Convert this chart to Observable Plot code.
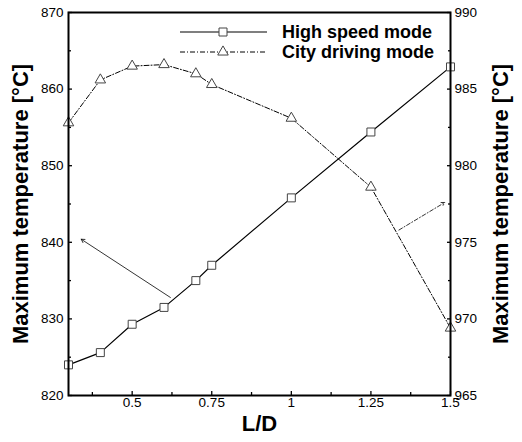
<!DOCTYPE html>
<html><head><meta charset="utf-8">
<script src="https://cdn.jsdelivr.net/npm/d3@7"></script>
<script src="https://cdn.jsdelivr.net/npm/@observablehq/plot@0.6"></script>
<style>body{margin:0;background:#fff;}</style>
</head><body><div id="chart"></div>
<script>
// ---- data ----
const ld = [0.3, 0.4, 0.5, 0.6, 0.7, 0.75, 1.0, 1.25, 1.5];
const highSpeed = [824.0, 825.6, 829.3, 831.5, 835.0, 837.0, 845.8, 854.4, 862.9];   // left axis
const cityDriving = [982.8, 985.6, 986.5, 986.6, 986.0, 985.3, 983.1, 978.6, 969.4]; // right axis
const seriesNames = ["High speed mode", "City driving mode"];
const xTicks = [0.5, 0.75, 1, 1.25, 1.5];
const xMinor = [0.375, 0.625, 0.875, 1.125, 1.375];
const leftTicks = [820, 830, 840, 850, 860, 870];
const leftMinor = [825, 835, 845, 855, 865];
const rightTicks = [965, 970, 975, 980, 985, 990];
const rightMinor = [967.5, 972.5, 977.5, 982.5, 987.5];
const arrowLeftX = [0.62, 0.34];     // points to left axis (left units)
const arrowLeftY = [832.8, 840.4];
const arrowRightX = [1.338, 1.482];  // points to right axis (right units)
const arrowRightY = [975.8, 977.6];
const xLabel = "L/D";
const yLabel = "Maximum temperature [°C]";

// right axis (965–990) mapped onto left axis (820–870)
const toLeft = r => 820 + (r - 965) * 2;
const toRight = l => 965 + (l - 820) / 2;

const hs = ld.map((x, i) => ({x, y: highSpeed[i]}));
const cd = ld.map((x, i) => ({x, y: toLeft(cityDriving[i])}));
const arrL = [{x1: arrowLeftX[0], y1: arrowLeftY[0], x2: arrowLeftX[1], y2: arrowLeftY[1]}];
const arrR = [{x1: arrowRightX[0], y1: toLeft(arrowRightY[0]), x2: arrowRightX[1], y2: toLeft(arrowRightY[1])}];

const font = "'Liberation Sans', Arial, Helvetica, sans-serif";
const blank = () => "";
const dashDot = "5,2,1,2";

const plot = Plot.plot({
  width: 522, height: 442,
  marginLeft: 68, marginRight: 72, marginTop: 12, marginBottom: 47,
  style: {fontFamily: font, background: "#fff", color: "#000", fontSize: "13px"},
  x: {domain: [0.3, 1.5]},
  y: {domain: [820, 870]},
  marks: [
    // x ticks (inward)
    Plot.axisX({ticks: xMinor, tickSize: -3, tickFormat: blank, label: null, strokeWidth: 1.3}),
    Plot.axisX({ticks: xTicks, tickSize: -4, tickPadding: 6, tickFormat: d => String(d), label: null, strokeWidth: 1.3, fontSize: 13.5}),
    // left axis
    Plot.axisY({ticks: leftMinor, tickSize: -3, tickFormat: blank, label: null, strokeWidth: 1.3}),
    Plot.axisY({ticks: leftTicks, tickSize: -4, tickPadding: 9, tickFormat: d => String(d), label: null, strokeWidth: 1.3, fontSize: 13.5}),
    // right axis
    Plot.axisY({anchor: "right", ticks: rightMinor.map(toLeft), tickSize: -3, tickFormat: blank, label: null, strokeWidth: 1.3}),
    Plot.axisY({anchor: "right", ticks: rightTicks.map(toLeft), tickSize: -4, tickPadding: 8, tickFormat: d => String(toRight(d)), label: null, strokeWidth: 1.3, fontSize: 13.5}),
    // series
    Plot.line(hs, {x: "x", y: "y", stroke: "#000", strokeWidth: 1.2}),
    Plot.line(cd, {x: "x", y: "y", stroke: "#000", strokeWidth: 1, strokeDasharray: dashDot}),
    Plot.dot(hs, {x: "x", y: "y", symbol: "square", r: 4.5, stroke: "#444", strokeWidth: 1, fill: "#fff"}),
    Plot.dot(cd, {x: "x", y: "y", symbol: "triangle", r: 3.9, stroke: "#444", strokeWidth: 1, fill: "#fff"}),
    // arrows
    Plot.arrow(arrL, {x1: "x1", y1: "y1", x2: "x2", y2: "y2", stroke: "#000", strokeWidth: 0.8, headLength: 7}),
    Plot.arrow(arrR, {x1: "x1", y1: "y1", x2: "x2", y2: "y2", stroke: "#000", strokeWidth: 0.8, headLength: 7, strokeDasharray: "4,2,1,2"}),
    // frame
    Plot.frame({stroke: "#000", strokeWidth: 2}),
    // axis titles
    Plot.text([yLabel], {frameAnchor: "left", dx: -48, rotate: -90, textAnchor: "middle", fontSize: 22, fontWeight: "bold", text: d => d}),
    Plot.text([yLabel], {frameAnchor: "right", dx: 50, rotate: -90, textAnchor: "middle", fontSize: 22, fontWeight: "bold", text: d => d}),
    Plot.text([xLabel], {frameAnchor: "bottom", dy: 35, textAnchor: "middle", fontSize: 22, fontWeight: "bold", text: d => d})
  ]
});

// legend inside the plot (top right)
const svg = d3.select(plot);
const leg = svg.append("g").attr("font-family", font).attr("text-anchor", "start");
const rows = [
  {name: seriesNames[0], dash: null, sym: d3.symbolSquare, size: 64, y: 32},
  {name: seriesNames[1], dash: dashDot, sym: d3.symbolTriangle, size: 48, y: 52}
];
rows.forEach(r => {
  leg.append("line").attr("x1", 180).attr("x2", 267).attr("y1", r.y).attr("y2", r.y)
    .attr("stroke", "#000").attr("stroke-width", r.dash ? 1 : 1.2)
    .attr("stroke-dasharray", r.dash);
  leg.append("path").attr("d", d3.symbol(r.sym, r.size)())
    .attr("transform", `translate(223,${r.y})`)
    .attr("fill", "#fff").attr("stroke", "#444");
  leg.append("text").attr("x", 282).attr("y", r.y).attr("dy", "0.35em")
    .attr("text-anchor", "start")
    .attr("font-size", 18).attr("font-weight", "bold").text(r.name);
});

document.getElementById("chart").append(plot);
</script>
</body></html>
